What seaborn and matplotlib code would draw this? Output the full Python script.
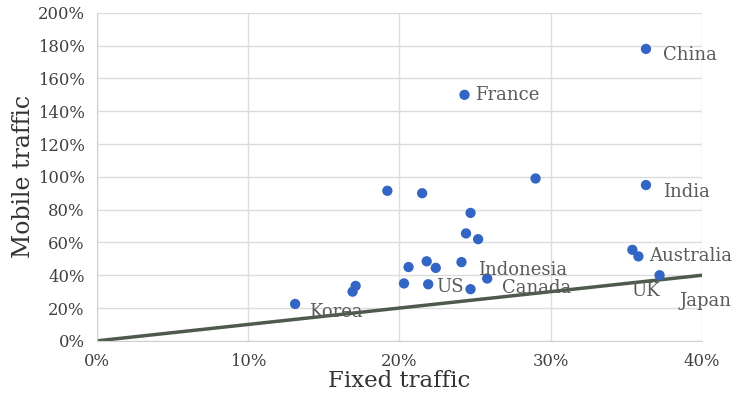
import matplotlib
matplotlib.use("Agg")
import matplotlib.pyplot as plt
import seaborn as sns
import pandas as pd

# fixed vs mobile traffic share (percent)
fixed = [36.3, 24.3, 29.0, 36.3, 19.2, 21.5, 24.7, 24.4, 25.2, 35.4, 35.8,
         20.6, 21.8, 22.4, 24.1, 25.8, 37.2, 20.3, 21.9, 24.7, 13.1, 17.1, 16.9]
mobile = [178, 150, 99, 95, 91.5, 90, 78, 65.5, 62, 55.5, 51.5,
          45, 48.5, 44.5, 48, 38, 40, 35, 34.5, 31.5, 22.5, 33.5, 30]

labels = ["China", "France", "India", "Australia", "Indonesia", "Canada",
          "US", "UK", "Japan", "Korea"]
label_x = [37.4, 25.0, 37.4, 36.5, 25.2, 26.8, 22.4, 35.3, 38.5, 14.0]
label_y = [174, 150, 91, 51.5, 43.5, 32.5, 33, 30.5, 24, 17.5]

# reference line y = x
ref_x = [0, 40]
ref_y = [0, 40]

df = pd.DataFrame({"fixed": fixed, "mobile": mobile})

sns.set_style("white")
plt.rcParams["font.family"] = ["DejaVu Serif"]

fig = plt.figure(figsize=(7.35, 4.01), dpi=100)
ax = fig.add_axes([0.132, 0.150, 0.823, 0.818])

sns.scatterplot(data=df, x="fixed", y="mobile", ax=ax, color="#3366c4",
                s=55, edgecolor="none", zorder=3)
sns.lineplot(x=ref_x, y=ref_y, ax=ax, color="#4d5a4d", linewidth=2.5, zorder=2)

for name, lx, ly in zip(labels, label_x, label_y):
    ax.text(lx, ly, name, fontsize=13, color="#5a5a5a", va="center",
            ha="left", clip_on=False, zorder=4)

ax.set_xlim(0, 40)
ax.set_ylim(0, 200)
ax.set_xticks(range(0, 41, 10))
ax.set_yticks(range(0, 201, 20))
ax.set_xticklabels([f"{v}%" for v in range(0, 41, 10)])
ax.set_yticklabels([f"{v}%" for v in range(0, 201, 20)])
ax.tick_params(labelsize=11.8, colors="#404040", length=0)
ax.tick_params(axis="y", pad=9)
ax.tick_params(axis="x", pad=9)
ax.grid(True, color="#dcdcdc", linewidth=1)
for side in ["top", "right"]:
    ax.spines[side].set_visible(False)
for side in ["left", "bottom"]:
    ax.spines[side].set_color("#d0d0d0")

ax.set_xlabel("Fixed traffic", fontsize=16.5, color="#333333", labelpad=0)
ax.set_ylabel("Mobile traffic", fontsize=17, color="#333333", labelpad=2)

fig.savefig("out.png", dpi=100)
